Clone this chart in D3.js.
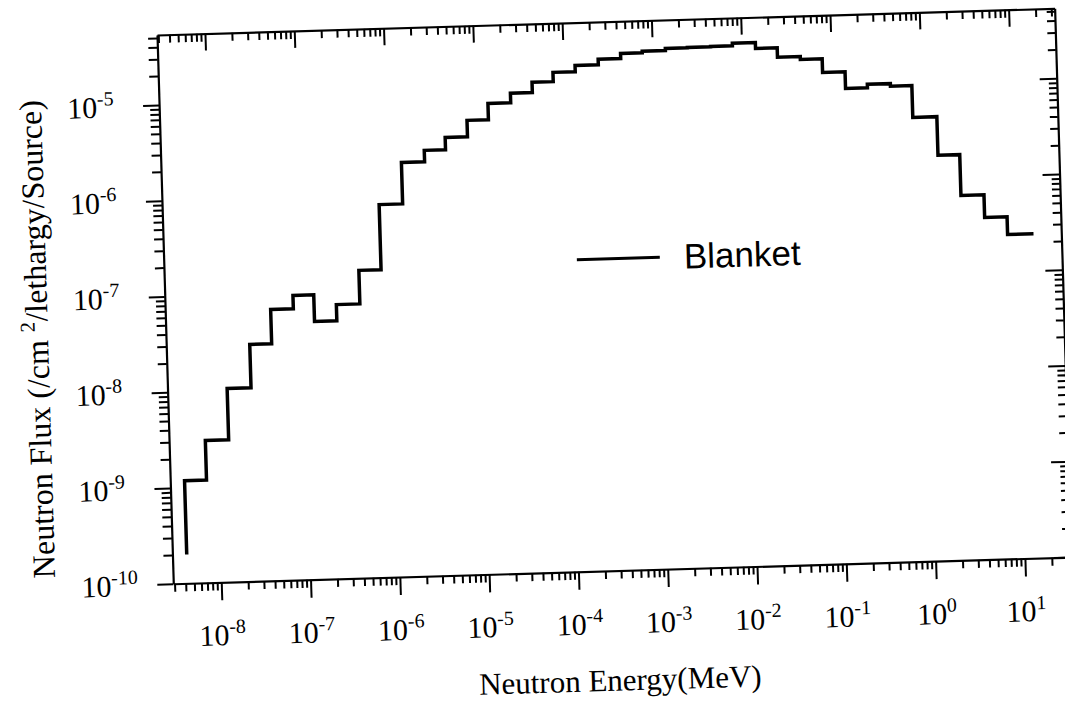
<!DOCTYPE html>
<html>
<head>
<meta charset="utf-8">
<script src="https://cdn.jsdelivr.net/npm/d3@7"></script>
<style>
  body { margin: 0; background: #fff; }
  .tick line, .domain { stroke: #000; }
</style>
</head>
<body>
<div id="chart"></div>
<script>
// group boundaries (MeV) and flux per lethargy
const binEdges = [4.2e-9, 7.4e-9, 1.35e-8, 2.5e-8, 4.4e-8, 7.9e-8, 1.35e-7, 2.4e-7, 4.4e-7, 7.8e-7,
  1.43e-6, 2.6e-6, 4.5e-6, 8.0e-6, 1.39e-5, 2.5e-5, 4.4e-5, 7.6e-5, 1.35e-4, 2.46e-4,
  4.4e-4, 7.7e-4, 1.40e-3, 2.47e-3, 4.5e-3, 7.9e-3, 1.43e-2, 2.5e-2, 4.5e-2, 7.9e-2,
  0.141, 0.248, 0.449, 0.78, 1.45, 2.54, 4.6, 8.2, 16];
const blanketFlux = [1.18e-9, 3.05e-9, 1.05e-8, 2.97e-8, 6.78e-8, 9.35e-8, 4.92e-8, 7.28e-8, 1.63e-7, 7.8e-7,
  2.11e-6, 2.78e-6, 3.73e-6, 5.54e-6, 8.2e-6, 1.03e-5, 1.32e-5, 1.65e-5, 1.92e-5, 2.19e-5,
  2.48e-5, 2.57e-5, 2.71e-5, 2.73e-5, 2.75e-5, 2.92e-5, 2.54e-5, 2.02e-5, 1.89e-5, 1.36e-5,
  9.1e-6, 9.9e-6, 9.3e-6, 4.33e-6, 1.71e-6, 6.4e-7, 3.72e-7, 2.43e-7];
const startFlux = 2.0e-10;
const xTickPowers = [-8, -7, -6, -5, -4, -3, -2, -1, 0, 1];
const yTickPowers = [-10, -9, -8, -7, -6, -5];
const seriesName = "Blanket";

const W = 1065, H = 704;
const width = 898, height = 549;
const tilt = -1.7; // the scan is slightly rotated
const serif = "'Liberation Serif', 'Times New Roman', serif";

const svg = d3.select("#chart").append("svg")
    .attr("width", W)
    .attr("height", H);

const g = svg.append("g")
    .attr("transform", `translate(157,35) rotate(${tilt})`);

const x = d3.scaleLog()
    .domain([Math.pow(10, -8.537), Math.pow(10, 1.515)])
    .range([0, width]);

const y = d3.scaleLog()
    .domain([1e-10, Math.pow(10, -4.27)])
    .range([height, 0]);

function logTicks(scale) {
  const [a, b] = scale.domain();
  const out = [];
  for (let p = Math.floor(Math.log10(a)); p <= Math.ceil(Math.log10(b)); p++) {
    for (let k = 1; k <= 9; k++) {
      const v = k * Math.pow(10, p);
      if (v >= a * 0.999 && v <= b * 1.001) out.push(v);
    }
  }
  return out;
}
const isMajor = d => Math.abs(Math.log10(d) - Math.round(Math.log10(d))) < 1e-6;

const xTicks = logTicks(x);
const yTicks = logTicks(y);

function styleAxis(sel) {
  sel.select(".domain").attr("stroke-width", 2.2);
  sel.selectAll(".tick line").attr("stroke-width", 2);
}

// bottom and top axes, ticks hanging down
const xBottom = g.append("g")
    .attr("transform", `translate(0,${height})`)
    .call(d3.axisBottom(x).tickValues(xTicks).tickFormat("").tickSizeOuter(0))
    .call(styleAxis);
xBottom.selectAll(".tick line").attr("y2", d => isMajor(d) ? 18 : 8);

const xTop = g.append("g")
    .call(d3.axisBottom(x).tickValues(xTicks).tickFormat("").tickSizeOuter(0))
    .call(styleAxis);
xTop.selectAll(".tick line").attr("y2", d => isMajor(d) ? 17 : 8);

// left and right axes, ticks pointing left
const yLeft = g.append("g")
    .call(d3.axisLeft(y).tickValues(yTicks).tickFormat("").tickSizeOuter(0))
    .call(styleAxis);
yLeft.selectAll(".tick line").attr("x2", d => isMajor(d) ? -16 : -9);

const yRight = g.append("g")
    .attr("transform", `translate(${width},0)`)
    .call(d3.axisLeft(y).tickValues(yTicks).tickFormat("").tickSizeOuter(0))
    .call(styleAxis);
yRight.selectAll(".tick line").attr("x2", d => isMajor(d) ? -17 : -8);

// tick labels as 10 with superscript
function powerLabel(sel) {
  sel.append("tspan").text("10");
  sel.append("tspan")
      .attr("dy", -12)
      .attr("font-size", 20)
      .text(p => String(p));
}

g.append("g").selectAll("text")
  .data(xTickPowers)
  .join("text")
    .attr("x", p => x(Math.pow(10, p)))
    .attr("y", height + 63)
    .attr("text-anchor", "middle")
    .attr("font-family", serif)
    .attr("font-size", 30)
    .call(powerLabel);

// the y labels of the scan line up on their left edge
g.append("g").selectAll("text")
  .data(yTickPowers)
  .join("text")
    .attr("x", -92)
    .attr("y", p => y(Math.pow(10, p)) + 11)
    .attr("text-anchor", "start")
    .attr("font-family", serif)
    .attr("font-size", 30)
    .call(powerLabel);

// axis titles
g.append("text")
    .attr("x", width / 2 - 5)
    .attr("y", height + 120)
    .attr("text-anchor", "middle")
    .attr("font-family", serif)
    .attr("font-size", 31)
    .text("Neutron Energy(MeV)");

const yTitle = g.append("text")
    .attr("transform", `translate(-118,${height / 2 + 26}) rotate(-90)`)
    .attr("text-anchor", "middle")
    .attr("font-family", serif)
    .attr("font-size", 32);
yTitle.append("tspan").text("Neutron Flux (/cm ");
yTitle.append("tspan").attr("dy", -13).attr("font-size", 21).text("2");
yTitle.append("tspan").attr("dy", 13).text("/lethargy/Source)");

// histogram as a step line
const pts = [[binEdges[0], startFlux]];
blanketFlux.forEach((v, i) => {
  pts.push([binEdges[i], v]);
  pts.push([binEdges[i + 1], v]);
});

const line = d3.line()
    .x(d => x(d[0]))
    .y(d => y(d[1]));

g.append("path")
    .datum(pts)
    .attr("fill", "none")
    .attr("stroke", "#000")
    .attr("stroke-width", 3.5)
    .attr("stroke-linejoin", "miter")
    .attr("d", line);

// legend
const legend = g.append("g").attr("transform", "translate(413,237)");
legend.append("line")
    .attr("x1", 0).attr("x2", 83)
    .attr("stroke", "#000")
    .attr("stroke-width", 3);
legend.append("text")
    .attr("x", 107)
    .attr("y", 12)
    .attr("font-family", "'Liberation Sans', Arial, sans-serif")
    .attr("font-size", 35)
    .text(seriesName);
</script>
</body>
</html>
